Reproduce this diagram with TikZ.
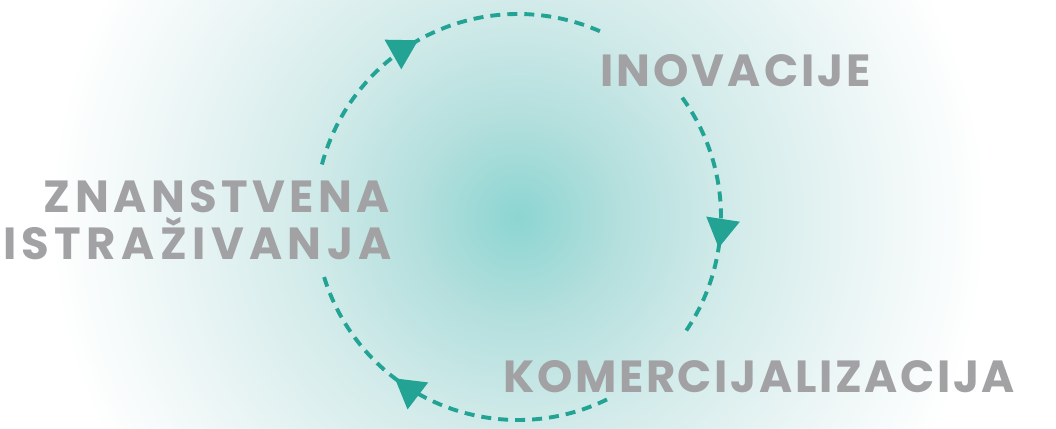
\documentclass[tikz,border=0pt]{standalone}
\usepackage{fontspec}
\setmainfont{Poppins}
\newfontfamily\labfont{Poppins}[LetterSpace=8]
\usetikzlibrary{arrows.meta,decorations.markings}
\definecolor{teal1}{HTML}{22A394}
\definecolor{txt}{HTML}{A2A2A5}
\definecolor{bgc0}{HTML}{8CD5D1}
\definecolor{bgc1}{HTML}{B3DFDD}
\definecolor{bgc2}{HTML}{D2EBEA}
\definecolor{bgc3}{HTML}{EDF6F6}
\pgfdeclareradialshading{bgshade}{\pgfpoint{0bp}{0bp}}{color(0bp)=(bgc0); color(5.3bp)=(bgc1); color(11.4bp)=(bgc2); color(19bp)=(bgc3); color(25bp)=(white); color(50bp)=(white)}
\begin{document}
\begin{tikzpicture}[x=1pt,y=1pt,
  lbl/.style={font=\labfont\bfseries\fontsize{45}{50}\selectfont\addfontfeatures{LetterSpace=#1}, text=txt, inner sep=0pt},
  cyc/.style={draw=teal1, line width=3.9pt, dash pattern=on 10pt off 7pt},
  midarrow/.style={postaction={decorate}, decoration={markings, mark=at position #1 with {\arrow[teal1]{Triangle[length=29pt,width=33pt]}}}}
]
\useasboundingbox (0,0) rectangle (1056,428);
\fill[white] (0,0) rectangle (1056,428);
\begin{scope}
\clip (0,0) rectangle (1056,428);
\shade[shading=bgshade] (48,-259) rectangle (988,681);
\end{scope}
\coordinate (c) at (518,211);
\node[lbl=6.8, anchor=base west] (ino) at (600,341) {INOVACIJE};
\node[lbl=9.8, anchor=base east] (zna) at (390,215) {ZNANSTVENA};
\node[lbl=12, anchor=base east] (ist) at (392,168) {ISTRAŽIVANJA};
\node[lbl=5.8, anchor=base west] (kom) at (503,36) {KOMERCIJALIZACIJA};
\path (c) ++(165:203) coordinate (a1s);
\path (c) ++(36:203) coordinate (a2s);
\path (c) ++(-64:203) coordinate (a3s);
\draw[cyc, midarrow=0.46] (a1s) arc[start angle=165, end angle=66, radius=203];
\draw[cyc, midarrow=0.63] (a2s) arc[start angle=36, end angle=-35, radius=203];
\draw[cyc, midarrow=0.64] (a3s) arc[start angle=-64, end angle=-163, radius=203];
\end{tikzpicture}
\end{document}
